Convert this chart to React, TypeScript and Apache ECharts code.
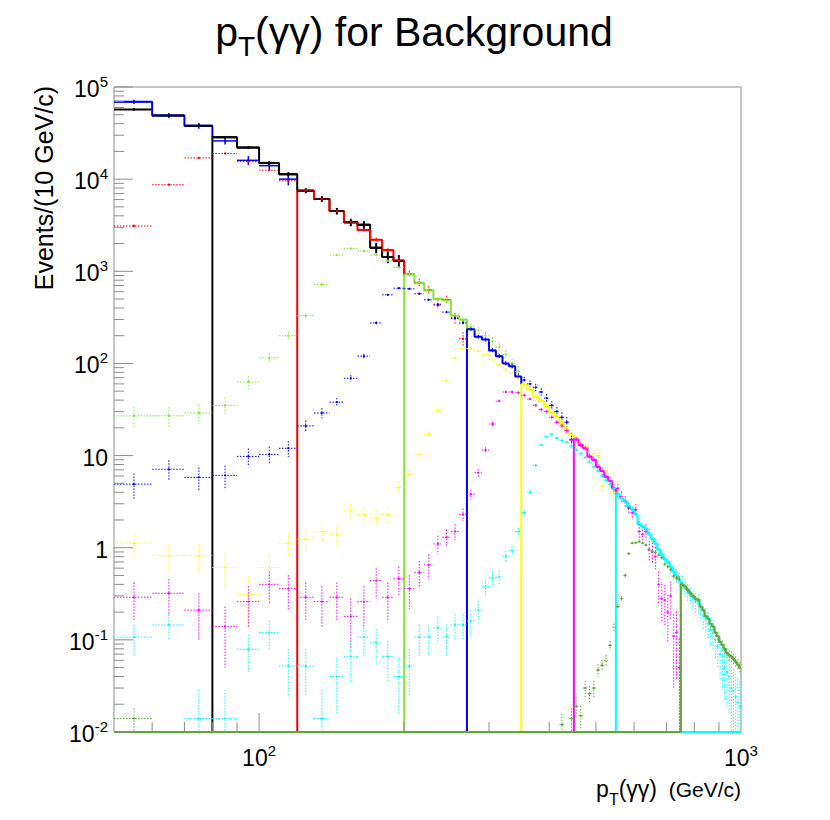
import { useEffect, useRef } from "react";
import * as echarts from "echarts";

// ---------- axis ranges ----------
const X_MIN = 50;
const X_MAX = 1000;
const Y_MIN = 0.01;
const Y_MAX = 1e5;
const BIN_WIDTH = 10;

// ---------- tick values & labels ----------
const X_MINOR_TICKS = [60, 70, 80, 90, 200, 300, 400, 500, 600, 700, 800, 900];
const X_MAJOR_TICKS = [100];
const X_TICK_LABELS: [number, string, string][] = [
  [100, "10", "2"],
  [1000, "10", "3"],
];
const Y_MAJOR_TICKS = [0.01, 0.1, 1, 10, 100, 1000, 10000, 100000];
const Y_MINOR_MANTISSAS = [2, 3, 4, 5, 6, 7, 8, 9];
const Y_TICK_LABELS: [number, string, string][] = [
  [0.01, "10", "-2"],
  [0.1, "10", "-1"],
  [1, "1", ""],
  [10, "10", ""],
  [100, "10", "2"],
  [1000, "10", "3"],
  [10000, "10", "4"],
  [100000, "10", "5"],
];

// ---------- sample: pT-hat 50 (blue) ----------
const PT50_STEP_START = 50;
const PT50_STEP = [69000, 49000, 38000];
const PT50_POINTS_START = 50;
const PT50_POINTS = [69000, 49000, 38000, 26000, 16000, 14000, 10000];
const PT50_WEIGHT = 200;

// ---------- sample: pT-hat 80 (black) ----------
const PT80_STEP_START = 80;
const PT80_STEP = [28500, 22000, 15000, 11300, 7500, 6100, 4500, 3400, 3200, 1800, 1430, 1300];
const PT80_POINTS_START = 50;
const PT80_POINTS = [57000, 49000, 38000, 28500, 22000, 15000, 11300, 7500, 6100, 4500, 3400, 3200, 1800, 1430, 1300];
const PT80_WEIGHT = 30;

// ---------- sample: pT-hat 120 (red) ----------
const PT120_STEP_START = 120;
const PT120_STEP = [7500, 6100, 4500, 3400, 2800, 2200, 1700, 1300];
const PT120_POINTS_START = 50;
const PT120_POINTS = [3100, 8700, 17000, 19000, 15500, 12500, 9600, 7500, 6100, 4500, 3400, 2800, 2200, 1700, 1300, 940, 760, 630, 440, 490, 310, 185];
const PT120_WEIGHT = 6;

// ---------- sample: pT-hat 200 (light green) ----------
const PT200_STEP_START = 200;
const PT200_STEP = [920, 740, 620, 500, 490, 330, 300];
const PT200_POINTS_START = 50;
const PT200_POINTS = [27, 27, 29, 35, 63, 115, 200, 330, 720, 1500, 1760, 1660, 1500, 1300, 1100, 930, 750, 630, 500, 480, 330, 290, 250, 230, 200, 175, 150, 125, 100, 82];
const PT200_WEIGHT = 1.6;

// ---------- sample: pT-hat 270 (blue) ----------
const PT270_STEP_START = 270;
const PT270_STEP = [235, 195, 182, 138, 120, 100, 93, 72];
const PT270_POINTS_START = 50;
const PT270_POINTS = [4.9, 7.1, 5.8, 6.1, 9.8, 10.3, 12, 21, 29, 38, 69, 120, 275, 555, 655, 645, 570, 490, 430, 360, 310, 275, 235, 195, 182, 140, 120, 100, 93, 72, 66, 60, 55, 49, 42, 35, 30, 26, 23, 15];
const PT270_WEIGHT = 0.46;

// ---------- sample: pT-hat 350 (yellow) ----------
const PT350_STEP_START = 350;
const PT350_STEP = [59, 52, 43, 39, 34, 29, 26, 22, 19, 16.5];
const PT350_POINTS_START = 50;
const PT350_POINTS = [1.12, 0.82, 0.82, 0.61, 0.31, 0.61, 1.12, 1.24, 1.5, 1.4, 2.5, 2.3, 2.1, 2.3, 4.5, 6.2, 10.2, 17, 31, 65, 115, 145, 145, 135, 125, 110, 98, 85, 78, 68, 60, 53, 44, 40, 35, 30, 27, 23, 20, 17, 15, 13.5, 12.5, 11, 10.5, 10, 4.7, 6.8, 5.2, 4.0];
const PT350_WEIGHT = 0.1;

// ---------- sample: pT-hat 450 (magenta) ----------
const PT450_STEP_START = 450;
const PT450_STEP = [15, 13, 12, 9.8, 9, 7.5, 6.8, 5.9, 5.3, 4.4];
const PT450_POINTS_START = 50;
const PT450_POINTS = [0.29, 0.32, 0.21, 0.14, 0.26, 0.4, 0.36, 0.29, 0.26, 0.29, 0.18, 0.26, 0.44, 0.29, 0.46, 0.36, 0.54, 0.65, 1.1, 1.3, 1.5, 2.3, 3.8, 6.5, 11.5, 22, 39, 49, 49, 48, 45, 41, 35, 31.5, 30, 26, 23, 21, 18.6, 14.7, 15, 13, 12, 9.8, 9, 7.5, 6.8, 5.9, 5.3, 4.4, 4.4, 3.6, 3.2, 2.7, 2.4, 2.6, 1.5, 1.4, 1.5, 0.95, 0.9, 0.8, 0.4, 0.28, 0.27, 0.2, 0.3, 0.11, 0.12, 0.05];
const PT450_WEIGHT = 0.058;

// ---------- sample: pT-hat 550 (cyan) ----------
const PT550_STEP_START = 550;
const PT550_STEP = [3.8, 3.4, 3.2, 2.8, 2.6, 2.3, 1.8, 1.7, 1.6, 1.4, 1.25, 1.12, 0.95, 0.84, 0.75, 0.7, 0.62, 0.55, 0.5, 0.44];
const PT550_POINTS_START = 50;
const PT550_POINTS = [0.107, 0.145, 0.014, 0.014, 0.079, 0.12, 0.052, 0.052, 0.014, 0.04, 0.066, 0.107, 0.094, 0.066, 0.04, 0.052, 0.107, 0.107, 0.135, 0.107, 0.145, 0.145, 0.16, 0.21, 0.38, 0.47, 0.48, 0.81, 0.93, 1.5, 2.4, 4.0, 7.8, 13, 16, 17, 15.5, 14.5, 14, 12.6, 11.5, 10.5, 9.5, 8.5, 7.5, 6.8, 6.0, 5.4, 4.9, 4.4, 3.9, 3.5, 3.2, 2.9, 2.6, 2.3, 1.9, 1.7, 1.6, 1.45, 1.25, 1.1, 0.97, 0.85, 0.76, 0.7, 0.62, 0.56, 0.5, 0.45, 0.42, 0.38, 0.33, 0.3, 0.28, 0.26, 0.25, 0.22, 0.18, 0.17, 0.15, 0.13, 0.12, 0.1, 0.085, 0.07, 0.06, 0.05, 0.045, 0.04, 0.03, 0.028, 0.024, 0.021, 0.019];
const PT550_WEIGHT = 0.015;

// ---------- sample: pT-hat 750 (dark green) ----------
const PT750_STEP_START = 750;
const PT750_STEP = [0.4, 0.38, 0.35, 0.32, 0.3, 0.28, 0.27, 0.23, 0.21, 0.18, 0.17, 0.15, 0.14, 0.12, 0.11, 0.095, 0.088, 0.08, 0.072, 0.068, 0.066, 0.062, 0.058, 0.054, 0.05];
const PT750_POINTS_LOW_START = 50;
const PT750_POINTS_LOW = [0.014];
const PT750_POINTS_START = 420;
const PT750_POINTS = [0.012, 0, 0.014, 0.019, 0.015, 0.03, 0.026, 0.03, 0.047, 0.053, 0.06, 0.087, 0.137, 0.23, 0.28, 0.5, 0.86, 1.12, 1.13, 1.16, 1.12, 1.07, 0.95, 0.92, 0.89, 0.83, 0.78, 0.66, 0.62, 0.58, 0.49, 0.47, 0.46, 0.4, 0.38, 0.35, 0.32, 0.3, 0.28, 0.27, 0.23, 0.21, 0.18, 0.17, 0.15, 0.14, 0.12, 0.11, 0.095, 0.088, 0.08, 0.072, 0.068, 0.066, 0.062, 0.058, 0.054, 0.05];
const PT750_WEIGHT = 0.0012;

// ---------- styles ----------
const FONT = '"Liberation Sans", Arial, Helvetica, sans-serif';
const FRAME_COLOR = "#8c8c8c";

type Segment = { start: number; values: number[] };
type Sample = {
  stepStart: number;
  step: number[];
  points: Segment[];
  weight: number;
  color: string;
  dashed: boolean;
  crossWidth: number;
  floorTail: boolean;
};

const SAMPLES: Sample[] = [
  { stepStart: PT50_STEP_START, step: PT50_STEP, points: [{ start: PT50_POINTS_START, values: PT50_POINTS }], weight: PT50_WEIGHT, color: "#0000ff", dashed: false, crossWidth: 1.5, floorTail: false },
  { stepStart: PT80_STEP_START, step: PT80_STEP, points: [{ start: PT80_POINTS_START, values: PT80_POINTS }], weight: PT80_WEIGHT, color: "#000000", dashed: false, crossWidth: 2, floorTail: false },
  { stepStart: PT120_STEP_START, step: PT120_STEP, points: [{ start: PT120_POINTS_START, values: PT120_POINTS }], weight: PT120_WEIGHT, color: "#ff0000", dashed: true, crossWidth: 1, floorTail: false },
  { stepStart: PT200_STEP_START, step: PT200_STEP, points: [{ start: PT200_POINTS_START, values: PT200_POINTS }], weight: PT200_WEIGHT, color: "#86e632", dashed: true, crossWidth: 1, floorTail: false },
  { stepStart: PT270_STEP_START, step: PT270_STEP, points: [{ start: PT270_POINTS_START, values: PT270_POINTS }], weight: PT270_WEIGHT, color: "#0000ff", dashed: true, crossWidth: 1, floorTail: false },
  { stepStart: PT350_STEP_START, step: PT350_STEP, points: [{ start: PT350_POINTS_START, values: PT350_POINTS }], weight: PT350_WEIGHT, color: "#ffff00", dashed: true, crossWidth: 1, floorTail: false },
  { stepStart: PT450_STEP_START, step: PT450_STEP, points: [{ start: PT450_POINTS_START, values: PT450_POINTS }], weight: PT450_WEIGHT, color: "#ff00ff", dashed: true, crossWidth: 1, floorTail: false },
  { stepStart: PT550_STEP_START, step: PT550_STEP, points: [{ start: PT550_POINTS_START, values: PT550_POINTS }], weight: PT550_WEIGHT, color: "#00ffff", dashed: true, crossWidth: 1, floorTail: true },
  {
    stepStart: PT750_STEP_START,
    step: PT750_STEP,
    points: [
      { start: PT750_POINTS_LOW_START, values: PT750_POINTS_LOW },
      { start: PT750_POINTS_START, values: PT750_POINTS },
    ],
    weight: PT750_WEIGHT,
    color: "#5fa838",
    dashed: true,
    crossWidth: 1,
    floorTail: true,
  },
];

// first bin value of the sample whose range begins at edge x (if any)
function valueStartingAt(x: number): number | null {
  const s = SAMPLES.find((q) => q.stepStart === x);
  return s ? s.step[0] : null;
}

// histogram outline: empty bins before the sample's range sit on the axis floor
function stepData(start: number, values: number[], floorTail: boolean): number[][] {
  const out: number[][] = [];
  const nBins = Math.round((X_MAX - X_MIN) / BIN_WIDTH);
  for (let i = 0; i < nBins; i++) {
    const lo = X_MIN + i * BIN_WIDTH;
    const k = Math.round((lo - start) / BIN_WIDTH);
    if (k >= values.length && !floorTail) {
      // stop at the end of the range, dropping only to where the next sample begins
      const next = valueStartingAt(lo);
      out.push([lo, next !== null ? Math.min(next, out[out.length - 1][1]) : out[out.length - 1][1]]);
      return out;
    }
    const v = k >= 0 && k < values.length ? values[k] : 0;
    out.push([lo, Math.max(v, Y_MIN)]);
  }
  out.push([X_MAX, out[out.length - 1][1]]);
  return out;
}

// error crosses: [binLow, value, binHigh, error]
function crossData(segments: Segment[], weight: number): number[][] {
  const out: number[][] = [];
  segments.forEach((seg) => {
    seg.values.forEach((v, k) => {
      if (!(v > 0)) return;
      const lo = seg.start + k * BIN_WIDTH;
      out.push([lo, v, lo + BIN_WIDTH, Math.sqrt(weight * v)]);
    });
  });
  return out;
}

const tickRich = {
  b: { fontSize: 23, fontFamily: FONT, fill: "#000", lineHeight: 30 },
  s: { fontSize: 15, fontFamily: FONT, fill: "#000", lineHeight: 14, verticalAlign: "top" },
};

function labelText(base: string, exp: string) {
  return exp ? `{b|${base}}{s|${exp}}` : `{b|${base}}`;
}

export default function App() {
  const ref = useRef<HTMLDivElement>(null);

  useEffect(() => {
    if (!ref.current) return;
    const chart = echarts.init(ref.current, undefined, { renderer: "svg" });

    const series: any[] = [];

    SAMPLES.forEach((s) => {
      series.push({
        type: "line",
        step: "end",
        data: stepData(s.stepStart, s.step, s.floorTail),
        symbol: "none",
        showSymbol: false,
        lineStyle: { color: s.color, width: 2 },
        silent: true,
        clip: true,
        z: 2,
      });
    });

    SAMPLES.forEach((s) => {
      const color = s.color;
      const dashed = s.dashed;
      const lw = s.crossWidth;
      series.push({
        type: "custom",
        data: crossData(s.points, s.weight),
        encode: { x: 0, y: 1 },
        silent: true,
        clip: true,
        z: 3,
        renderItem: (_p: any, api: any) => {
          const lo = api.value(0);
          const v = api.value(1);
          const hi = api.value(2);
          const err = api.value(3);
          const xc = (lo + hi) / 2;
          const a = api.coord([lo, v]);
          const b = api.coord([hi, v]);
          const top = api.coord([xc, Math.min(v + err, Y_MAX)]);
          const bot = api.coord([xc, Math.max(v - err, Y_MIN)]);
          const c = api.coord([xc, v]);
          const ls: any = { stroke: color, lineWidth: lw, lineDash: dashed ? [1.5, 1.5] : null };
          return {
            type: "group",
            children: [
              { type: "line", shape: { x1: a[0], y1: a[1], x2: b[0], y2: b[1] }, style: ls },
              { type: "line", shape: { x1: top[0], y1: top[1], x2: bot[0], y2: bot[1] }, style: ls },
              { type: "circle", shape: { cx: c[0], cy: c[1], r: 1.1 }, style: { fill: color } },
            ],
          };
        },
      });
    });

    // x ticks
    const xTicks = [
      ...X_MINOR_TICKS.map((x) => [x, Y_MIN, 10]),
      ...X_MAJOR_TICKS.map((x) => [x, Y_MIN, 19]),
    ];
    series.push({
      type: "custom",
      data: xTicks,
      encode: { x: 0, y: 1 },
      silent: true,
      z: 5,
      renderItem: (_p: any, api: any) => {
        const p = api.coord([api.value(0), Y_MIN]);
        const len = api.value(2);
        return {
          type: "line",
          shape: { x1: p[0], y1: p[1], x2: p[0], y2: p[1] - len },
          style: { stroke: FRAME_COLOR, lineWidth: 1 },
        };
      },
    });

    // y ticks
    const yTicks: number[][] = [];
    Y_MAJOR_TICKS.forEach((y) => yTicks.push([X_MIN, y, 19]));
    Y_MAJOR_TICKS.slice(0, -1).forEach((dec) => {
      Y_MINOR_MANTISSAS.forEach((m) => yTicks.push([X_MIN, m * dec, 10]));
    });
    series.push({
      type: "custom",
      data: yTicks,
      encode: { x: 0, y: 1 },
      silent: true,
      z: 5,
      renderItem: (_p: any, api: any) => {
        const p = api.coord([X_MIN, api.value(1)]);
        const len = api.value(2);
        return {
          type: "line",
          shape: { x1: p[0], y1: p[1], x2: p[0] + len, y2: p[1] },
          style: { stroke: FRAME_COLOR, lineWidth: 1 },
        };
      },
    });

    // x tick labels
    series.push({
      type: "custom",
      data: X_TICK_LABELS.map((t) => [t[0], Y_MIN]),
      encode: { x: 0, y: 1 },
      silent: true,
      z: 5,
      renderItem: (params: any, api: any) => {
        const t = X_TICK_LABELS[params.dataIndex];
        const p = api.coord([t[0], Y_MIN]);
        return {
          type: "text",
          x: p[0],
          y: p[1] + 26,
          style: { text: labelText(t[1], t[2]), rich: tickRich, align: "center", verticalAlign: "middle" },
        };
      },
    });

    // y tick labels
    series.push({
      type: "custom",
      data: Y_TICK_LABELS.map((t) => [X_MIN, t[0]]),
      encode: { x: 0, y: 1 },
      silent: true,
      z: 5,
      renderItem: (params: any, api: any) => {
        const t = Y_TICK_LABELS[params.dataIndex];
        const p = api.coord([X_MIN, t[0]]);
        return {
          type: "text",
          x: p[0] - 6,
          y: p[1] + 2,
          style: { text: labelText(t[1], t[2]), rich: tickRich, align: "right", verticalAlign: "middle" },
        };
      },
    });

    chart.setOption({
      animation: false,
      backgroundColor: "#ffffff",
      grid: {
        left: 114,
        top: 87,
        width: 627,
        height: 645,
        show: true,
        borderColor: FRAME_COLOR,
        borderWidth: 1,
        backgroundColor: "transparent",
        containLabel: false,
        outerBoundsMode: "none",
      },
      xAxis: {
        type: "log",
        logBase: 10,
        min: X_MIN,
        max: X_MAX,
        axisLine: { show: false },
        axisTick: { show: false },
        axisLabel: { show: false },
        splitLine: { show: false },
      },
      yAxis: {
        type: "log",
        logBase: 10,
        min: Y_MIN,
        max: Y_MAX,
        axisLine: { show: false },
        axisTick: { show: false },
        axisLabel: { show: false },
        splitLine: { show: false },
      },
      graphic: [
        {
          type: "text",
          x: 414,
          y: 3,
          style: {
            text: "{a|p}{t|T}{a|(γγ) for Background}",
            rich: {
              a: { fontSize: 41, lineHeight: 57, fontFamily: FONT, fill: "#000" },
              t: { fontSize: 28, lineHeight: 26, fontFamily: FONT, fill: "#000", verticalAlign: "bottom" },
            },
            align: "center",
            verticalAlign: "top",
          },
        },
        {
          type: "text",
          x: 44,
          y: 86,
          rotation: Math.PI / 2,
          style: {
            text: "Events/(10 GeV/c)",
            fontSize: 25,
            fontFamily: FONT,
            fill: "#000",
            align: "right",
            verticalAlign: "middle",
          },
        },
        {
          type: "text",
          x: 741,
          y: 789,
          style: {
            text: "{a|p}{t|T}{a|(γγ)}{g|  (GeV/c)}",
            rich: {
              a: { fontSize: 23, lineHeight: 37, fontFamily: FONT, fill: "#000" },
              t: { fontSize: 16, lineHeight: 16, fontFamily: FONT, fill: "#000", verticalAlign: "bottom" },
              g: { fontSize: 21, lineHeight: 37, fontFamily: FONT, fill: "#000" },
            },
            align: "right",
            verticalAlign: "middle",
          },
        },
      ],
      series,
    });

    return () => {
      chart.dispose();
    };
  }, []);

  return (
    <div
      ref={ref}
      style={{ position: "fixed", left: 0, top: 0, width: 830, height: 820, background: "#fff" }}
    />
  );
}
